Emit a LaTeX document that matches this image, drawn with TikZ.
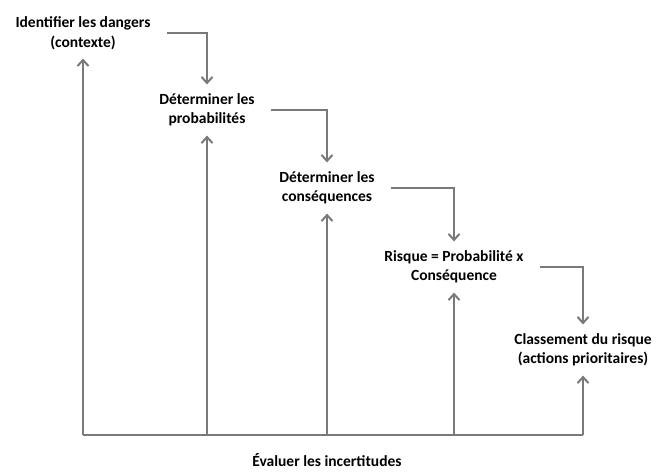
\documentclass[tikz,border=0pt]{standalone}
\usepackage{fontspec}
\setmainfont{Carlito}
\usepackage{tikz}
\usetikzlibrary{positioning}
\usetikzlibrary{arrows.meta}

\begin{document}
\begin{tikzpicture}[x=1pt, y=-1pt,
                          textnode/.style={align=center, font=\bfseries\fontsize{15.5}{19.5}\selectfont, inner xsep=16pt, inner ysep=9pt},
                          flowline/.style={draw=gray!95!black, line width=2pt},
                          flowarrow/.style={flowline, -{Straight Barb[length=6pt, width=11pt, line width=2pt]}},
                      ]
                      \useasboundingbox (0,0) rectangle (663,471);
                      % Nodes
                      \node[textnode]        (dangers)       at (83,33)     {Identifier les dangers\\(contexte)};
                      \node[textnode]        (proba)         at (207,110)   {Déterminer les\\probabilités};
                      \node[textnode]        (conseq)        at (327,188)   {Déterminer les\\conséquences};
                      \node[textnode]        (risque)        at (454,267)   {Risque = Probabilité x\\Conséquence};
                      \node[textnode]        (classement)    at (583,350)   {Classement du risque\\(actions prioritaires)};
                      \node[textnode]        (incert)        at (327,460)   {Évaluer les incertitudes};

                      \coordinate (bar_1) at (83,435);
                      \coordinate (bar_2) at (207,435);
                      \coordinate (bar_3) at (327,435);
                      \coordinate (bar_4) at (454,435);
                      \coordinate (bar_5) at (583,435);

                      %Lines
                      \draw[flowarrow] (dangers.east) -| (proba.north);
                      \draw[flowarrow] (proba.east) -| (conseq.north);
                      \draw[flowarrow] (conseq.east) -| (risque.north);
                      \draw[flowarrow] (risque.east) -| (classement.north);
                      \draw[flowline] (bar_1) -- (bar_5);
                      \draw[flowarrow] (bar_1) -- (dangers.south);
                      \draw[flowarrow] (bar_2) -- (proba.south);
                      \draw[flowarrow] (bar_3) -- (conseq.south);
                      \draw[flowarrow] (bar_4) -- (risque.south);
                      \draw[flowarrow] (bar_5) -- (classement.south);
                  \end{tikzpicture}
\end{document}
